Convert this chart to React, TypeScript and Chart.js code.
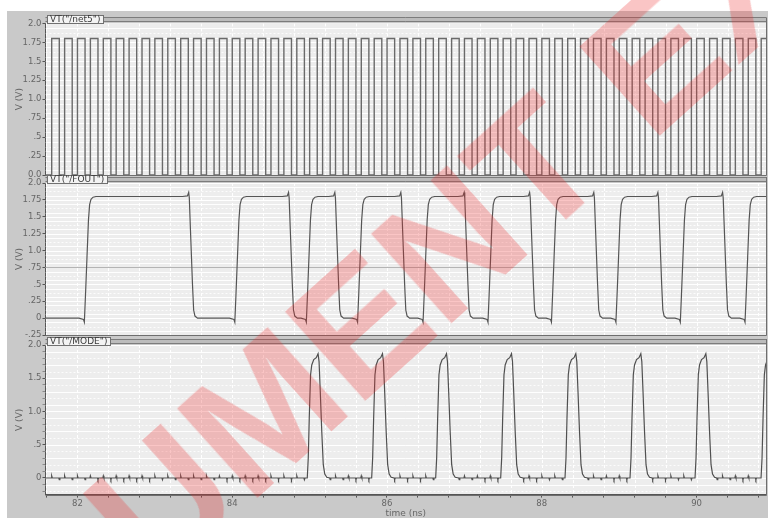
import React, { useEffect, useRef } from "react";
import { Chart, registerables } from "chart.js";

Chart.register(...registerables);

// ---------- axes ----------
const X_MIN = 81.588;
const X_MAX = 90.897;
const xTickValues = [81.6, 82.0, 82.4, 82.8, 83.2, 83.6, 84.0, 84.4, 84.8, 85.2, 85.6, 86.0, 86.4, 86.8, 87.2, 87.6, 88.0, 88.4, 88.8, 89.2, 89.6, 90.0, 90.4, 90.8];
const xLabelValues = [82, 84, 86, 88, 90];
const xLabelTexts = ["82", "84", "86", "88", "90"];

const p1TickValues = [0, 0.25, 0.5, 0.75, 1.0, 1.25, 1.5, 1.75, 2.0];
const p1TickLabels = ["0.0", ".25", ".5", ".75", "1.0", "1.25", "1.5", "1.75", "2.0"];
const p2TickValues = [-0.25, 0, 0.25, 0.5, 0.75, 1.0, 1.25, 1.5, 1.75, 2.0];
const p2TickLabels = ["-.25", "0", ".25", ".5", ".75", "1.0", "1.25", "1.5", "1.75", "2.0"];
const p3TickValues = [0, 0.5, 1.0, 1.5, 2.0];
const p3TickLabels = ["0", ".5", "1.0", "1.5", "2.0"];
const p3MinorTicks = [-0.2, -0.1, 0.1, 0.2, 0.3, 0.4, 0.6, 0.7, 0.8, 0.9, 1.1, 1.2, 1.3, 1.4, 1.6, 1.7, 1.8, 1.9];

// ---------- VT("/net5") : clock edges (ns) ----------
const net5High = 1.8;
const net5Rise = [81.668, 81.835, 82.001, 82.168, 82.335, 82.501, 82.668, 82.835, 83.001, 83.168, 83.335, 83.501, 83.668, 83.835, 84.001, 84.168, 84.335, 84.501, 84.668, 84.835, 85.001, 85.168, 85.335, 85.501, 85.668, 85.835, 86.001, 86.168, 86.335, 86.501, 86.668, 86.835, 87.001, 87.168, 87.335, 87.501, 87.668, 87.835, 88.001, 88.168, 88.335, 88.501, 88.668, 88.835, 89.001, 89.168, 89.335, 89.501, 89.668, 89.835, 90.001, 90.168, 90.335, 90.501, 90.668, 90.835];
const net5Fall = [81.766, 81.933, 82.099, 82.266, 82.433, 82.599, 82.766, 82.933, 83.099, 83.266, 83.433, 83.599, 83.766, 83.933, 84.099, 84.266, 84.433, 84.599, 84.766, 84.933, 85.099, 85.266, 85.433, 85.599, 85.766, 85.933, 86.099, 86.266, 86.433, 86.599, 86.766, 86.933, 87.099, 87.266, 87.433, 87.599, 87.766, 87.933, 88.099, 88.266, 88.433, 88.599, 88.766, 88.933, 89.099, 89.266, 89.433, 89.599, 89.766, 89.933, 90.099, 90.266, 90.433, 90.599, 90.766, 90.933];

// ---------- VT("/FOUT") : edge times (50% crossing, ns) ----------
const foutRise = [82.124, 84.068, 84.992, 85.654, 86.5, 87.339, 88.159, 88.992, 89.824, 90.66];
const foutFall = [83.474, 84.764, 85.362, 86.215, 87.033, 87.879, 88.708, 89.536, 90.372];
// edge shapes: [time offset ns, volts]
const foutRiseShape: number[][] = [[-0.103, 0.0], [-0.045, -0.02], [-0.034, -0.06], [-0.019, 0.35], [0, 0.9], [0.019, 1.45], [0.034, 1.68], [0.052, 1.76], [0.078, 1.79], [0.116, 1.8]];
const foutFallShape: number[][] = [[-0.116, 1.8], [-0.052, 1.81], [-0.036, 1.86], [-0.028, 1.78], [-0.013, 1.3], [0, 0.9], [0.013, 0.5], [0.028, 0.12], [0.045, 0.03], [0.078, 0.0]];

// ---------- VT("/MODE") : pulse start times (ns) ----------
const modeStart = [84.97, 85.802, 86.629, 87.469, 88.3, 89.14, 89.98, 90.833];
const modePulseShape: number[][] = [[0, 0], [0.0129, 0.3], [0.0258, 0.9], [0.0426, 1.55], [0.0582, 1.7], [0.084, 1.78], [0.1163, 1.81], [0.1396, 1.87], [0.1525, 1.75], [0.168, 1.3], [0.1874, 0.7], [0.2068, 0.2], [0.2262, 0.06], [0.252, 0.01]];
const modeRippleUp = 0.032;
const modeRippleDown = -0.026;

type P = { x: number; y: number };

function buildNet5(): P[] {
  const pts: P[] = [{ x: X_MIN - 0.05, y: 0 }];
  net5Rise.forEach((r, i) => {
    const f = net5Fall[i];
    pts.push({ x: r, y: 0 }, { x: r, y: net5High }, { x: f, y: net5High }, { x: f, y: 0 });
  });
  pts.push({ x: X_MAX + 0.1, y: 0 });
  return pts;
}

function buildFout(): P[] {
  const edges = [
    ...foutRise.map((t) => ({ t, s: foutRiseShape })),
    ...foutFall.map((t) => ({ t, s: foutFallShape })),
  ].sort((a, b) => a.t - b.t);
  const pts: P[] = [{ x: X_MIN - 0.05, y: 0 }];
  edges.forEach((e) => e.s.forEach(([dt, v]) => pts.push({ x: e.t + dt, y: v })));
  pts.push({ x: X_MAX + 0.1, y: 1.8 });
  return pts;
}

function buildMode(): P[] {
  const inPulse = (t: number) => modeStart.some((s) => t > s - 0.02 && t < s + 0.27);
  const pts: P[] = [{ x: X_MIN - 0.05, y: 0 }];
  net5Rise.forEach((t) => {
    if (!inPulse(t)) pts.push({ x: t - 0.006, y: 0 }, { x: t, y: modeRippleUp }, { x: t + 0.008, y: 0 });
  });
  net5Fall.forEach((t) => {
    if (!inPulse(t)) pts.push({ x: t - 0.006, y: 0 }, { x: t, y: modeRippleDown }, { x: t + 0.008, y: 0 });
  });
  modeStart.forEach((s) => modePulseShape.forEach(([dt, v]) => pts.push({ x: s + dt, y: v })));
  pts.sort((a, b) => a.x - b.x);
  return pts;
}

const TICK_FONT = { family: '"DejaVu Sans", sans-serif', size: 8.5 };
const TITLE_FONT = { family: '"DejaVu Sans", sans-serif', size: 9, lineHeight: 1.2 };
const TEXT_COLOR = "#666666";

function range(a: number, b: number, step: number): number[] {
  const out: number[] = [];
  for (let v = a; v <= b + 1e-9; v += step) out.push(Math.round(v * 10000) / 10000);
  return out;
}

function makeStrip(label: string, hGrid: number[], hMajor: number[], marker: number | null) {
  return {
    id: "strip",
    beforeDraw(chart: any) {
      const { ctx, chartArea: a } = chart;
      ctx.save();
      ctx.fillStyle = "#ededed";
      ctx.fillRect(a.left, a.top, a.right - a.left, a.bottom - a.top);
      ctx.restore();
    },
    beforeDatasetsDraw(chart: any) {
      const { ctx, chartArea: a, scales } = chart;
      ctx.save();
      ctx.beginPath();
      ctx.rect(a.left, a.top, a.right - a.left, a.bottom - a.top);
      ctx.clip();
      ctx.lineWidth = 1;
      hGrid.forEach((v, i) => {
        const y = Math.round(scales.y.getPixelForValue(v)) + 0.5;
        const major = hMajor.some((m) => Math.abs(m - v) < 1e-6);
        ctx.strokeStyle = major ? "#ffffff" : i % 2 ? "rgba(255,255,255,0.95)" : "rgba(255,255,255,0.8)";
        ctx.setLineDash(major || i % 2 ? [] : [2, 2]);
        ctx.beginPath();
        ctx.moveTo(a.left, y);
        ctx.lineTo(a.right, y);
        ctx.stroke();
      });
      xTickValues.forEach((v) => {
        const x = Math.round(scales.x.getPixelForValue(v)) + 0.5;
        ctx.strokeStyle = "#ffffff";
        ctx.setLineDash([3, 2]);
        ctx.beginPath();
        ctx.moveTo(x, a.top);
        ctx.lineTo(x, a.bottom);
        ctx.stroke();
      });
      if (marker !== null) {
        const y = Math.round(scales.y.getPixelForValue(marker)) + 0.5;
        ctx.setLineDash([]);
        ctx.strokeStyle = "#b4b4b4";
        ctx.beginPath();
        ctx.moveTo(a.left, y);
        ctx.lineTo(a.right, y);
        ctx.stroke();
      }
      ctx.restore();
    },
    afterDraw(chart: any) {
      const { ctx, chartArea: a } = chart;
      ctx.save();
      ctx.lineWidth = 1;
      ctx.strokeStyle = "#6e6e6e";
      ctx.beginPath();
      ctx.moveTo(a.left, Math.round(a.bottom) + 0.5);
      ctx.lineTo(Math.round(a.right) + 0.5, Math.round(a.bottom) + 0.5);
      ctx.lineTo(Math.round(a.right) + 0.5, a.top - 6);
      ctx.stroke();
      // header bar
      const bt = Math.round(a.top) - 6;
      ctx.fillStyle = "#bcbcbc";
      ctx.fillRect(a.left, bt, a.right - a.left, 5);
      ctx.strokeStyle = "#7c7c7c";
      ctx.beginPath();
      ctx.moveTo(a.left, bt + 0.5);
      ctx.lineTo(a.right, bt + 0.5);
      ctx.moveTo(a.left, bt + 4.5);
      ctx.lineTo(a.right, bt + 4.5);
      ctx.stroke();
      // label box
      ctx.font = '9px "DejaVu Sans", sans-serif';
      const w = Math.ceil(ctx.measureText(label).width) + 5;
      const bx = Math.round(a.left) + 1.5;
      ctx.fillStyle = "#f3f3f3";
      ctx.fillRect(bx, bt - 1.5, w, 8);
      ctx.strokeStyle = "#707070";
      ctx.strokeRect(bx, bt - 1.5, w, 8);
      ctx.fillStyle = "#3a3a3a";
      ctx.textBaseline = "middle";
      ctx.fillText(label, bx + 2.5, bt + 2.7);
      ctx.restore();
    },
  };
}

function yScale(min: number, max: number, values: number[], labels: string[], minor: number[]) {
  const all = [...values, ...minor].sort((a, b) => a - b);
  return {
    type: "linear",
    min,
    max,
    position: "left",
    afterFit: (s: any) => {
      s.width = 38.5;
    },
    afterBuildTicks: (s: any) => {
      s.ticks = all.map((v) => ({ value: v }));
    },
    ticks: {
      autoSkip: false,
      padding: 1,
      color: TEXT_COLOR,
      font: TICK_FONT,
      callback: (v: number) => {
        const i = values.findIndex((m) => Math.abs(m - v) < 1e-6);
        return i >= 0 ? labels[i] : "";
      },
    },
    grid: {
      drawOnChartArea: false,
      drawTicks: true,
      tickLength: 3,
      tickColor: (c: any) => (values.some((m) => Math.abs(m - c.tick.value) < 1e-6) ? "#555555" : "#8a8a8a"),
    },
    border: { display: true, color: "#555555", width: 1 },
    title: { display: true, text: "V (V)", color: TEXT_COLOR, font: TITLE_FONT, padding: { top: 7.6, bottom: 0 } },
  };
}

function xScale(show: boolean) {
  return {
    type: "linear",
    min: X_MIN,
    max: X_MAX,
    position: "bottom",
    display: show,
    afterFit: (s: any) => {
      s.height = show ? 23.4 : 0;
    },
    afterBuildTicks: (s: any) => {
      s.ticks = xTickValues.map((v) => ({ value: v }));
    },
    ticks: {
      autoSkip: false,
      maxRotation: 0,
      minRotation: 0,
      padding: 1.5,
      color: TEXT_COLOR,
      font: TICK_FONT,
      callback: (v: number) => {
        const i = xLabelValues.findIndex((m) => Math.abs(m - v) < 1e-6);
        return i >= 0 ? xLabelTexts[i] : "";
      },
    },
    grid: { drawOnChartArea: false, drawTicks: true, tickLength: 3, tickColor: "#555555" },
    border: { display: true, color: "#555555", width: 1 },
    title: { display: true, text: "time (ns)", color: TEXT_COLOR, font: { ...TITLE_FONT, lineHeight: 1 }, padding: { top: 0, bottom: 0 } },
  };
}

function config(data: P[], color: string, width: number, y: any, showX: boolean, pad: { top: number; bottom: number }, strip: any): any {
  return {
    type: "scatter",
    data: {
      datasets: [
        {
          data,
          showLine: true,
          borderColor: color,
          borderWidth: width,
          pointRadius: 0,
          tension: 0,
          fill: false,
        },
      ],
    },
    options: {
      animation: false,
      responsive: false,
      devicePixelRatio: 1,
      events: [],
      layout: { padding: { top: pad.top, bottom: pad.bottom, left: 0, right: 2 } },
      plugins: { legend: { display: false }, tooltip: { enabled: false } },
      scales: { x: xScale(showX), y },
    },
    plugins: [strip],
  };
}

export default function App() {
  const c1 = useRef<HTMLCanvasElement>(null);
  const c2 = useRef<HTMLCanvasElement>(null);
  const c3 = useRef<HTMLCanvasElement>(null);

  useEffect(() => {
    const charts = [
      new Chart(
        c1.current!,
        config(
          buildNet5(),
          "#6a6a6a",
          1.4,
          yScale(0, 2.0, p1TickValues, p1TickLabels, []),
          false,
          { top: 12.4, bottom: 7 },
          makeStrip('VT("/net5")', range(0, 2, 0.0625), p1TickValues, null)
        )
      ),
      new Chart(
        c2.current!,
        config(
          buildFout(),
          "#555555",
          1.2,
          yScale(-0.25, 2.0, p2TickValues, p2TickLabels, []),
          false,
          { top: 11, bottom: 7 },
          makeStrip('VT("/FOUT")', range(-0.25, 2, 0.0625), p2TickValues, 0.75)
        )
      ),
      new Chart(
        c3.current!,
        config(
          buildMode(),
          "#505050",
          1.2,
          yScale(-0.25, 2.0, p3TickValues, p3TickLabels, p3MinorTicks),
          true,
          { top: 13, bottom: 0 },
          makeStrip('VT("/MODE")', range(-0.2, 2, 0.1), p3TickValues, null)
        )
      ),
    ];
    return () => charts.forEach((c) => c.destroy());
  }, []);

  const cs = (top: number, h: number): React.CSSProperties => ({ position: "absolute", left: 7, top, width: 761, height: h });

  return (
    <div style={{ position: "absolute", left: 0, top: 0, width: 768, height: 518, background: "#ffffff", overflow: "hidden" }}>
      <div style={{ position: "absolute", left: 7, top: 11, width: 761, height: 507, background: "#c9c9c9" }} />
      <canvas ref={c1} width={761} height={171} style={cs(11, 171)} />
      <canvas ref={c2} width={761} height={170} style={cs(172, 170)} />
      <canvas ref={c3} width={761} height={186} style={cs(332, 186)} />
      <div
        style={{
          position: "absolute",
          left: 532 - 1100,
          top: 170 - 87,
          width: 2200,
          height: 174,
          lineHeight: "174px",
          textAlign: "center",
          fontFamily: '"Liberation Sans", Arial, sans-serif',
          fontWeight: 700,
          fontSize: 174,
          color: "rgba(235, 40, 40, 0.27)",
          transform: "rotate(-42deg)",
          whiteSpace: "nowrap",
          pointerEvents: "none",
        }}
      >
        DOCUMENT EXAMPLE
      </div>
    </div>
  );
}
